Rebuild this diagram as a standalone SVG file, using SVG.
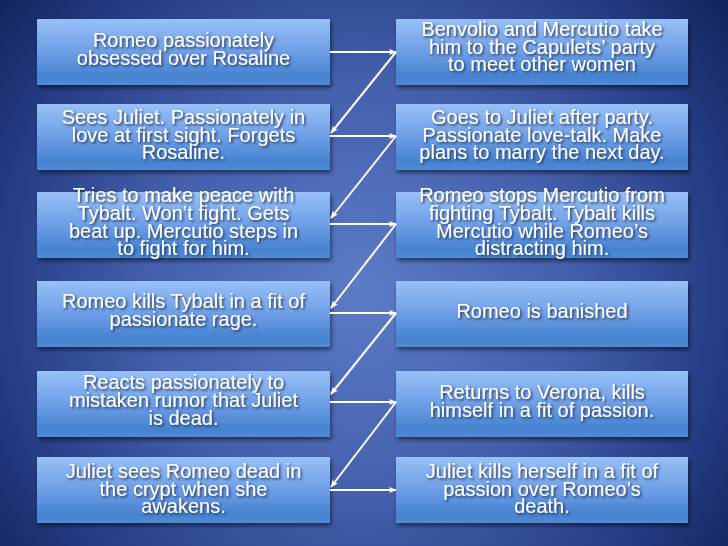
<svg xmlns="http://www.w3.org/2000/svg" width="728" height="546" viewBox="0 0 728 546">
<defs>
<radialGradient id="bg" cx="360" cy="290" r="470" gradientUnits="userSpaceOnUse">
<stop offset="0" stop-color="#5b7cc6"/>
<stop offset="0.45" stop-color="#445fac"/>
<stop offset="0.8" stop-color="#223a80"/>
<stop offset="1" stop-color="#10235a"/>
</radialGradient>
<linearGradient id="box" x1="0" y1="0" x2="0" y2="1">
<stop offset="0" stop-color="#98c0f8"/>
<stop offset="0.5" stop-color="#6d9ee6"/>
<stop offset="0.88" stop-color="#4682d0"/>
<stop offset="1" stop-color="#4e8cd6"/>
</linearGradient>
<filter id="bshadow" x="-5%" y="-10%" width="115%" height="130%">
<feDropShadow dx="1.5" dy="3" stdDeviation="2" flood-color="#000" flood-opacity="0.5"/>
</filter>
<filter id="tshadow" x="-5%" y="-20%" width="115%" height="150%">
<feDropShadow dx="1.5" dy="1.5" stdDeviation="0.8" flood-color="#1a2a50" flood-opacity="0.9"/>
</filter>
<marker id="ah" viewBox="0 0 10 10" refX="9" refY="5" markerWidth="8" markerHeight="8" orient="auto" markerUnits="userSpaceOnUse">
<path d="M0,1 L10,5 L0,9 L2.5,5 Z" fill="#fff"/>
</marker>
</defs>
<style>
.b{fill:url(#box);filter:url(#bshadow)}
.t{font-family:"Liberation Sans",Arial,sans-serif;font-size:20px;fill:#fff;text-anchor:middle;filter:url(#tshadow)}
.c{stroke:#fff;stroke-width:2;fill:none;marker-end:url(#ah)}
</style>
<rect width="728" height="546" fill="url(#bg)"/>

<g id="n1"><rect class="b" x="37" y="19" width="293" height="66"/>
<text class="t" x="183.5" y="47">Romeo passionately</text>
<text class="t" x="183.5" y="65">obsessed over Rosaline</text></g>

<g id="n2"><rect class="b" x="396" y="19" width="292" height="66"/>
<text class="t" x="542" y="36">Benvolio and Mercutio take</text>
<text class="t" x="542" y="53.5">him to the Capulets’ party</text>
<text class="t" x="542" y="71">to meet other women</text></g>

<g id="n3"><rect class="b" x="37" y="104" width="293" height="66"/>
<text class="t" x="183.5" y="124">Sees Juliet. Passionately in</text>
<text class="t" x="183.5" y="141.5">love at first sight. Forgets</text>
<text class="t" x="183.5" y="159">Rosaline.</text></g>

<g id="n4"><rect class="b" x="396" y="104" width="292" height="66"/>
<text class="t" x="542" y="124">Goes to Juliet after party.</text>
<text class="t" x="542" y="141.5">Passionate love-talk. Make</text>
<text class="t" x="542" y="159">plans to marry the next day.</text></g>

<g id="n5"><rect class="b" x="37" y="192" width="293" height="66"/>
<text class="t" x="183.5" y="202">Tries to make peace with</text>
<text class="t" x="183.5" y="220">Tybalt. Won’t fight. Gets</text>
<text class="t" x="183.5" y="238">beat up. Mercutio steps in</text>
<text class="t" x="183.5" y="255">to fight for him.</text></g>

<g id="n6"><rect class="b" x="396" y="192" width="292" height="66"/>
<text class="t" x="542" y="202">Romeo stops Mercutio from</text>
<text class="t" x="542" y="220">fighting Tybalt. Tybalt kills</text>
<text class="t" x="542" y="238">Mercutio while Romeo’s</text>
<text class="t" x="542" y="255">distracting him.</text></g>

<g id="n7"><rect class="b" x="37" y="281" width="293" height="66"/>
<text class="t" x="183.5" y="308">Romeo kills Tybalt in a fit of</text>
<text class="t" x="183.5" y="326">passionate rage.</text></g>

<g id="n8"><rect class="b" x="396" y="281" width="292" height="66"/>
<text class="t" x="542" y="318">Romeo is banished</text></g>

<g id="n9"><rect class="b" x="37" y="371" width="293" height="66"/>
<text class="t" x="183.5" y="389">Reacts passionately to</text>
<text class="t" x="183.5" y="407">mistaken rumor that Juliet</text>
<text class="t" x="183.5" y="425">is dead.</text></g>

<g id="n10"><rect class="b" x="396" y="371" width="292" height="66"/>
<text class="t" x="542" y="399">Returns to Verona, kills</text>
<text class="t" x="542" y="417">himself in a fit of passion.</text></g>

<g id="n11"><rect class="b" x="37" y="457" width="293" height="66"/>
<text class="t" x="183.5" y="478">Juliet sees Romeo dead in</text>
<text class="t" x="183.5" y="496">the crypt when she</text>
<text class="t" x="183.5" y="513">awakens.</text></g>

<g id="n12"><rect class="b" x="396" y="457" width="292" height="66"/>
<text class="t" x="542" y="478">Juliet kills herself in a fit of</text>
<text class="t" x="542" y="496">passion over Romeo’s</text>
<text class="t" x="542" y="513">death.</text></g>

<g id="connectors">
<line class="c" x1="330" y1="52" x2="396" y2="52"/>
<line class="c" x1="396" y1="52" x2="331" y2="133"/>
<line class="c" x1="330" y1="136" x2="396" y2="136"/>
<line class="c" x1="396" y1="136" x2="331" y2="218"/>
<line class="c" x1="330" y1="224" x2="396" y2="224"/>
<line class="c" x1="396" y1="224" x2="331" y2="308"/>
<line class="c" x1="330" y1="313" x2="396" y2="313"/>
<line class="c" x1="396" y1="313" x2="331" y2="394"/>
<line class="c" x1="330" y1="402" x2="396" y2="402"/>
<line class="c" x1="396" y1="402" x2="331" y2="487"/>
<line class="c" x1="330" y1="490" x2="396" y2="490"/>
</g>
</svg>
